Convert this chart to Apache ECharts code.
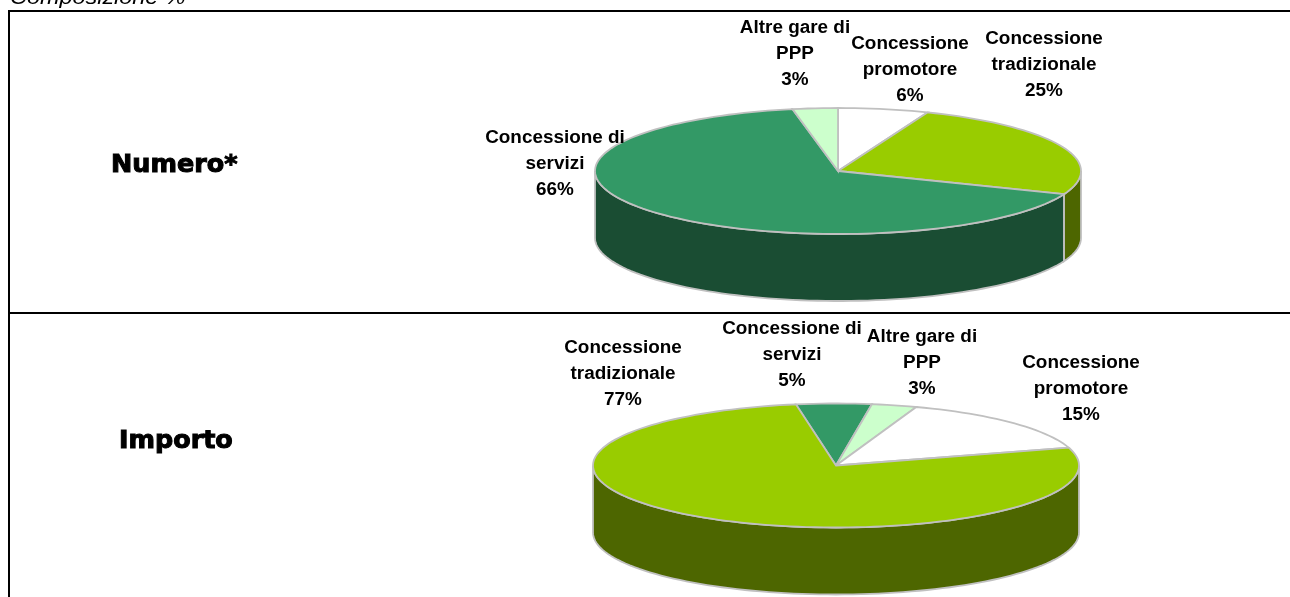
<!DOCTYPE html>
<html>
<head>
<meta charset="utf-8">
<style>html,body{margin:0;padding:0;background:#fff}#main{width:1290px;height:597px}</style>
<script src="https://cdn.jsdelivr.net/npm/echarts@6/dist/echarts.min.js"></script>
</head>
<body>
<div id="main"></div>
<script>
var numeroNames = ['Concessione\npromotore', 'Concessione\ntradizionale', 'Concessione di\nservizi', 'Altre gare di\nPPP'];
var numeroValues = [6, 25, 66, 3];
var importoNames = ['Concessione di\nservizi', 'Altre gare di\nPPP', 'Concessione\npromotore', 'Concessione\ntradizionale'];
var importoValues = [5, 3, 15, 77];

var topColors = {
    'Concessione\npromotore': '#ffffff',
    'Concessione\ntradizionale': '#99cc00',
    'Concessione di\nservizi': '#339966',
    'Altre gare di\nPPP': '#ccffcc'
};
var sideColors = {
    'Concessione\npromotore': '#808080',
    'Concessione\ntradizionale': '#4d6600',
    'Concessione di\nservizi': '#1a4d33',
    'Altre gare di\nPPP': '#667f66'
};

var edge = '#c0c0c0';
var textStretch = 1.05;

function point(p, deg, dy) {
    var t = deg * Math.PI / 180;
    return [p.cx + p.rx * Math.sin(t), p.cy - p.ry * Math.cos(t) + (dy || 0)];
}

function arc(p, from, to, dy) {
    var pts = [];
    var n = Math.max(2, Math.ceil((to - from) / 2));
    for (var i = 0; i <= n; i++) {
        pts.push(point(p, from + (to - from) * i / n, dy));
    }
    return pts;
}

// ellipse pie with a wall, one custom series per pie
function pieSeries(names, values, p) {
    var total = values.reduce(function (a, b) { return a + b; }, 0);
    return {
        type: 'custom',
        coordinateSystem: 'none',
        silent: true,
        animation: false,
        data: values.map(function (v, i) { return { name: names[i], value: [v] }; }),
        renderItem: function (params, api) {
            var i = params.dataIndex;
            var before = 0;
            for (var k = 0; k < i; k++) before += values[k];
            var from = p.start + before / total * 360;
            var to = from + api.value(0) / total * 360;
            var children = [];

            // the wall only shows on the front half
            var a = Math.max(from, 90), b = Math.min(to, 270);
            if (b > a) {
                children.push({
                    type: 'polygon',
                    shape: { points: arc(p, a, b, 0).concat(arc(p, a, b, p.depth).reverse()) },
                    style: { fill: sideColors[names[i]], stroke: edge, lineWidth: 1.8 }
                });
            }
            children.push({
                type: 'polygon',
                shape: { points: [[p.cx, p.cy]].concat(arc(p, from, to, 0)) },
                style: { fill: topColors[names[i]], stroke: edge, lineWidth: 1.8 }
            });
            return { type: 'group', children: children };
        }
    };
}

function labelGraphics(names, values, anchors) {
    return names.map(function (name, i) {
        return {
            type: 'text',
            x: anchors[i][0],
            y: anchors[i][1],
            z: 10,
            scaleX: textStretch,
            style: {
                text: name + '\n' + values[i] + '%',
                font: 'bold 18px "Liberation Sans", Arial, sans-serif',
                fill: '#000',
                align: 'center',
                verticalAlign: 'middle',
                lineHeight: 26
            }
        };
    });
}

function rowTitle(text, x, y) {
    return {
        type: 'text',
        x: x,
        y: y,
        scaleX: 1.06,
        style: {
            text: text,
            font: 'bold 24px "DejaVu Sans", sans-serif',
            fill: '#000',
            stroke: '#000',
            lineWidth: 1,
            verticalAlign: 'middle'
        }
    };
}

function rule(x, y, w, h) {
    return { type: 'rect', shape: { x: x, y: y, width: w, height: h }, style: { fill: '#000' } };
}

var numeroPie = { cx: 838, cy: 171, rx: 243, ry: 63, depth: 67, start: 0 };
var importoPie = { cx: 836, cy: 465.5, rx: 243, ry: 62, depth: 67, start: -9.5 };

var numeroAnchors = [[910, 70], [1044, 65], [555, 164], [795, 54]];
var importoAnchors = [[792, 355], [922, 363], [1081, 389], [623, 374]];

var myChart = echarts.init(document.getElementById('main'), null, { renderer: 'canvas' });
var option = {
    backgroundColor: '#fff',
    animation: false,
    graphic: [
        rule(8, 10, 1282, 2),
        rule(8, 312, 1282, 2),
        rule(8, 10, 2, 587),
        {
            type: 'text',
            x: 10,
            y: 9,
            scaleX: 1.115,
            style: {
                text: 'Composizione %',
                font: 'italic 21px "Liberation Sans", Arial, sans-serif',
                fill: '#000',
                verticalAlign: 'bottom'
            }
        },
        rowTitle('Numero*', 111, 166),
        rowTitle('Importo', 119, 442)
    ].concat(labelGraphics(numeroNames, numeroValues, numeroAnchors))
     .concat(labelGraphics(importoNames, importoValues, importoAnchors)),
    series: [
        pieSeries(numeroNames, numeroValues, numeroPie),
        pieSeries(importoNames, importoValues, importoPie)
    ]
};
option && myChart.setOption(option);
</script>
</body>
</html>
